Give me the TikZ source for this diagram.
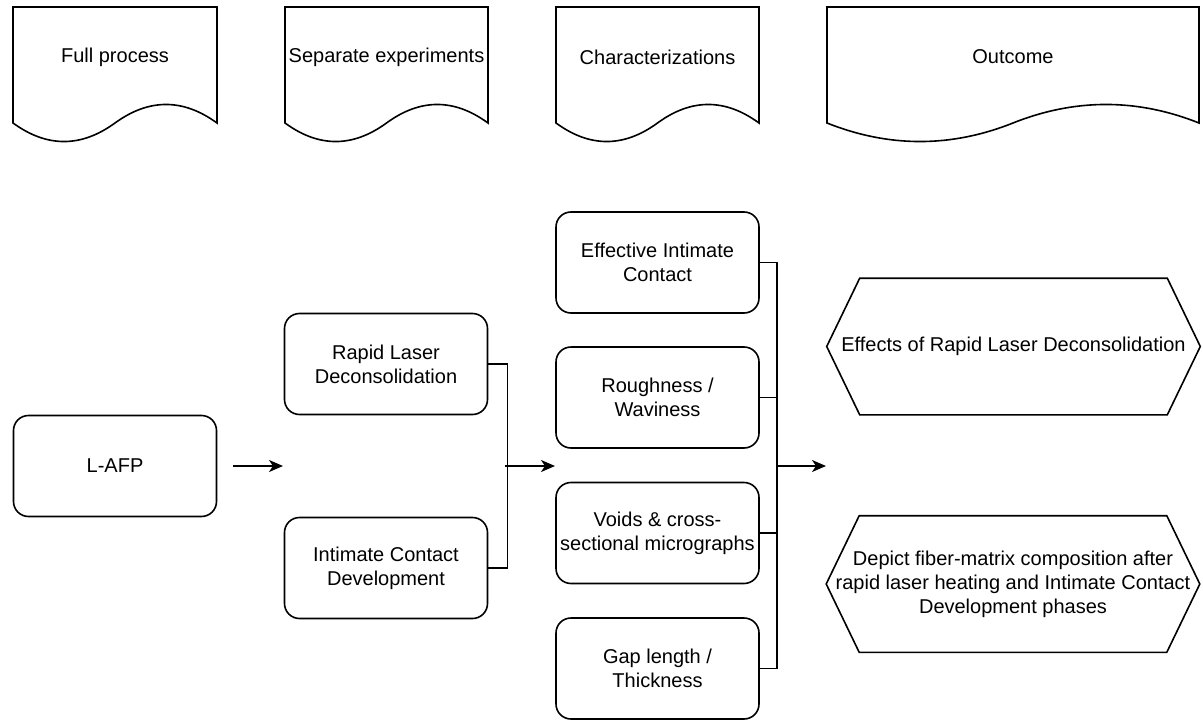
\documentclass[tikz,border=0pt]{standalone}
\usepackage{fontspec}
\setmainfont{Liberation Sans}
\usetikzlibrary{arrows.meta}
\begin{document}
\begin{tikzpicture}[x=1pt,y=-1pt,line width=1.6pt,>={Stealth[length=14pt,width=12pt,inset=4pt]},
	font=\fontsize{20}{24}\selectfont,
	rbox/.style={draw,rounded corners=15pt,minimum width=203pt,minimum height=101pt,align=center,inner sep=0pt},
	hexbox/.style={minimum width=372pt,minimum height=135pt,align=center,inner sep=0pt}]
	\useasboundingbox (0,0) rectangle (1203,720);
	% column headers
	\foreach \n/\xa/\xb/\txt in {full/13/217/Full process,sep/285/488/Separate experiments,
		chr/556/759/Characterizations,out/827/1199/Outcome}{
		\pgfmathsetmacro{\w}{\xb-\xa}
		\draw (\xa,7) -- (\xb,7) -- (\xb,123)
			.. controls ({\xb-\w/6},98.3) and ({\xa+2*\w/3},98.3) .. ({\xa+\w/2},123)
			.. controls ({\xa+\w/3},147.7) and ({\xa+\w/6},147.7) .. (\xa,123) -- cycle;
		\node (\n) at ({(\xa+\xb)/2},57) {\txt};
	}
	% process boxes
	\node[rbox] (lafp) at (115,466) {L-AFP};
	\node[rbox] (rld) at (386,364) {Rapid Laser\\Deconsolidation};
	\node[rbox] (icd) at (386,568) {Intimate Contact\\Development};
	\node[rbox] (eic) at (657.5,262.5) {Effective Intimate\\Contact};
	\node[rbox] (rough) at (657.5,397.5) {Roughness /\\Waviness};
	\node[rbox] (voids) at (657.5,533) {Voids \& cross-\\sectional micrographs};
	\node[rbox] (gap) at (657.5,668.5) {Gap length /\\Thickness};
	% outcomes
	\node[hexbox] (eff) at (1013.5,346.5) {Effects of Rapid Laser Deconsolidation};
	\node[hexbox] (dep) at (1013,584) {Depict fiber-matrix composition after\\rapid laser heating and Intimate Contact\\Development phases};
	\foreach \h in {eff,dep}{
		\draw (\h.west) -- ([xshift=33pt]\h.north west) -- ([xshift=-33pt]\h.north east)
			-- (\h.east) -- ([xshift=-33pt]\h.south east) -- ([xshift=33pt]\h.south west) -- cycle;
	}
	% connectors
	\path (233,466) coordinate (s1)
		(283,466) coordinate (s2)
		(505,466) coordinate (j1)
		(555,466) coordinate (e1)
		(776,466) coordinate (j2)
		(826,466) coordinate (e2);
	\draw[->] (s1) -- (s2);
	\draw (rld.east) -- ++(19,0) |- (icd.east);
	\draw[->] (j1) -- (e1);
	\draw (eic.east) -- ++(17,0) |- (gap.east);
	\foreach \b in {rough,voids}{
		\draw (\b.east) -- ++(17,0);
	}
	\draw[->] (j2) -- (e2);
\end{tikzpicture}
\end{document}
